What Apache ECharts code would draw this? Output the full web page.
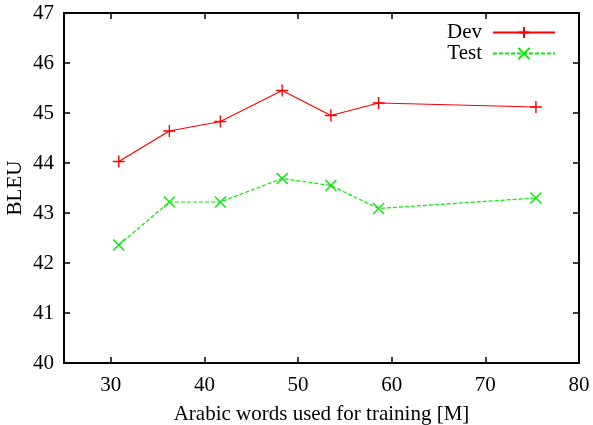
<!DOCTYPE html>
<html style="height: 100%">
<head>
    <meta charset="utf-8">
    <title>BLEU vs training data</title>
</head>
<body style="height: 100%; margin: 0; background: #fff">
    <div id="container" style="width: 593px; height: 425px"></div>
    <script type="text/javascript" src="https://cdn.jsdelivr.net/npm/echarts@6/dist/echarts.min.js"></script>
    <script type="text/javascript">
        // Arabic words used for training [M]
        var words = [30.85, 36.25, 41.7, 48.3, 53.5, 58.6, 75.4];
        var dev = [44.03, 44.64, 44.83, 45.45, 44.95, 45.20, 45.12];
        var test = [42.36, 43.22, 43.22, 43.69, 43.55, 43.09, 43.30];
        var xTicks = [30, 40, 50, 60, 70, 80];

        function pairs(ys) {
            return words.map(function (x, i) { return [x, ys[i]]; });
        }

        var font = 'Liberation Serif';
        var plus = 'path://M0,5L10,5M5,0L5,10';
        var cross = 'path://M0,0L10,10M10,0L0,10';

        var myChart = echarts.init(document.getElementById('container'));
        var tickX = {
            inside: true, length: 6,
            lineStyle: { color: '#000', width: 1.5 },
            customValues: xTicks
        };
        var tickY = {
            inside: true, length: 6,
            lineStyle: { color: '#000', width: 1.5 }
        };
        var legendText = { fontFamily: font, fontSize: 21, color: '#000', padding: [0, 6, 0, 0] };
        var option = {
            animation: false,
            grid: { left: 64, right: 14, top: 13, bottom: 62, outerBoundsMode: 'none' },
            legend: [{
                data: ['Dev'],
                right: 32, top: 17,
                align: 'right',
                itemWidth: 62, itemHeight: 14,
                textStyle: legendText
            }, {
                data: ['Test'],
                right: 32, top: 38,
                align: 'right',
                itemWidth: 62, itemHeight: 14,
                textStyle: legendText
            }],
            xAxis: [{
                type: 'value', min: 25, max: 80,
                name: 'Arabic words used for training [M]',
                nameLocation: 'middle', nameGap: 41, nameMoveOverlap: false,
                nameTextStyle: { fontFamily: font, fontSize: 21, color: '#000' },
                axisLine: { lineStyle: { color: '#000', width: 2 } },
                axisTick: tickX,
                axisLabel: { customValues: xTicks, fontFamily: font, fontSize: 21, color: '#000', margin: 12 },
                splitLine: { show: false }
            }, {
                type: 'value', min: 25, max: 80, position: 'top',
                axisLine: { show: true, lineStyle: { color: '#000', width: 2 } },
                axisTick: tickX,
                axisLabel: { show: false },
                splitLine: { show: false }
            }],
            yAxis: [{
                type: 'value', min: 40, max: 47, interval: 1,
                name: 'BLEU',
                nameLocation: 'middle', nameGap: 38, nameMoveOverlap: false,
                nameTextStyle: { fontFamily: font, fontSize: 21, color: '#000' },
                axisLine: { show: true, lineStyle: { color: '#000', width: 2 } },
                axisTick: tickY,
                axisLabel: { fontFamily: font, fontSize: 21, color: '#000', margin: 10 },
                splitLine: { show: false }
            }, {
                type: 'value', min: 40, max: 47, interval: 1, position: 'right',
                axisLine: { show: true, lineStyle: { color: '#000', width: 2 } },
                axisTick: tickY,
                axisLabel: { show: false },
                splitLine: { show: false }
            }],
            series: [{
                name: 'Dev',
                type: 'line',
                data: pairs(dev),
                symbol: plus,
                symbolSize: 12,
                showAllSymbol: true,
                lineStyle: { color: '#ff0000', width: 1.2 },
                itemStyle: { color: '#ff0000', borderColor: '#ff0000', borderWidth: 1.4 }
            }, {
                name: 'Test',
                type: 'line',
                data: pairs(test),
                symbol: cross,
                symbolSize: 11,
                showAllSymbol: true,
                lineStyle: { color: '#00ee00', width: 1.2, type: [4, 2] },
                itemStyle: { color: '#00ee00', borderColor: '#00ee00', borderWidth: 1.4 }
            }]
        };
        myChart.setOption(option);
    </script>
</body>
</html>
